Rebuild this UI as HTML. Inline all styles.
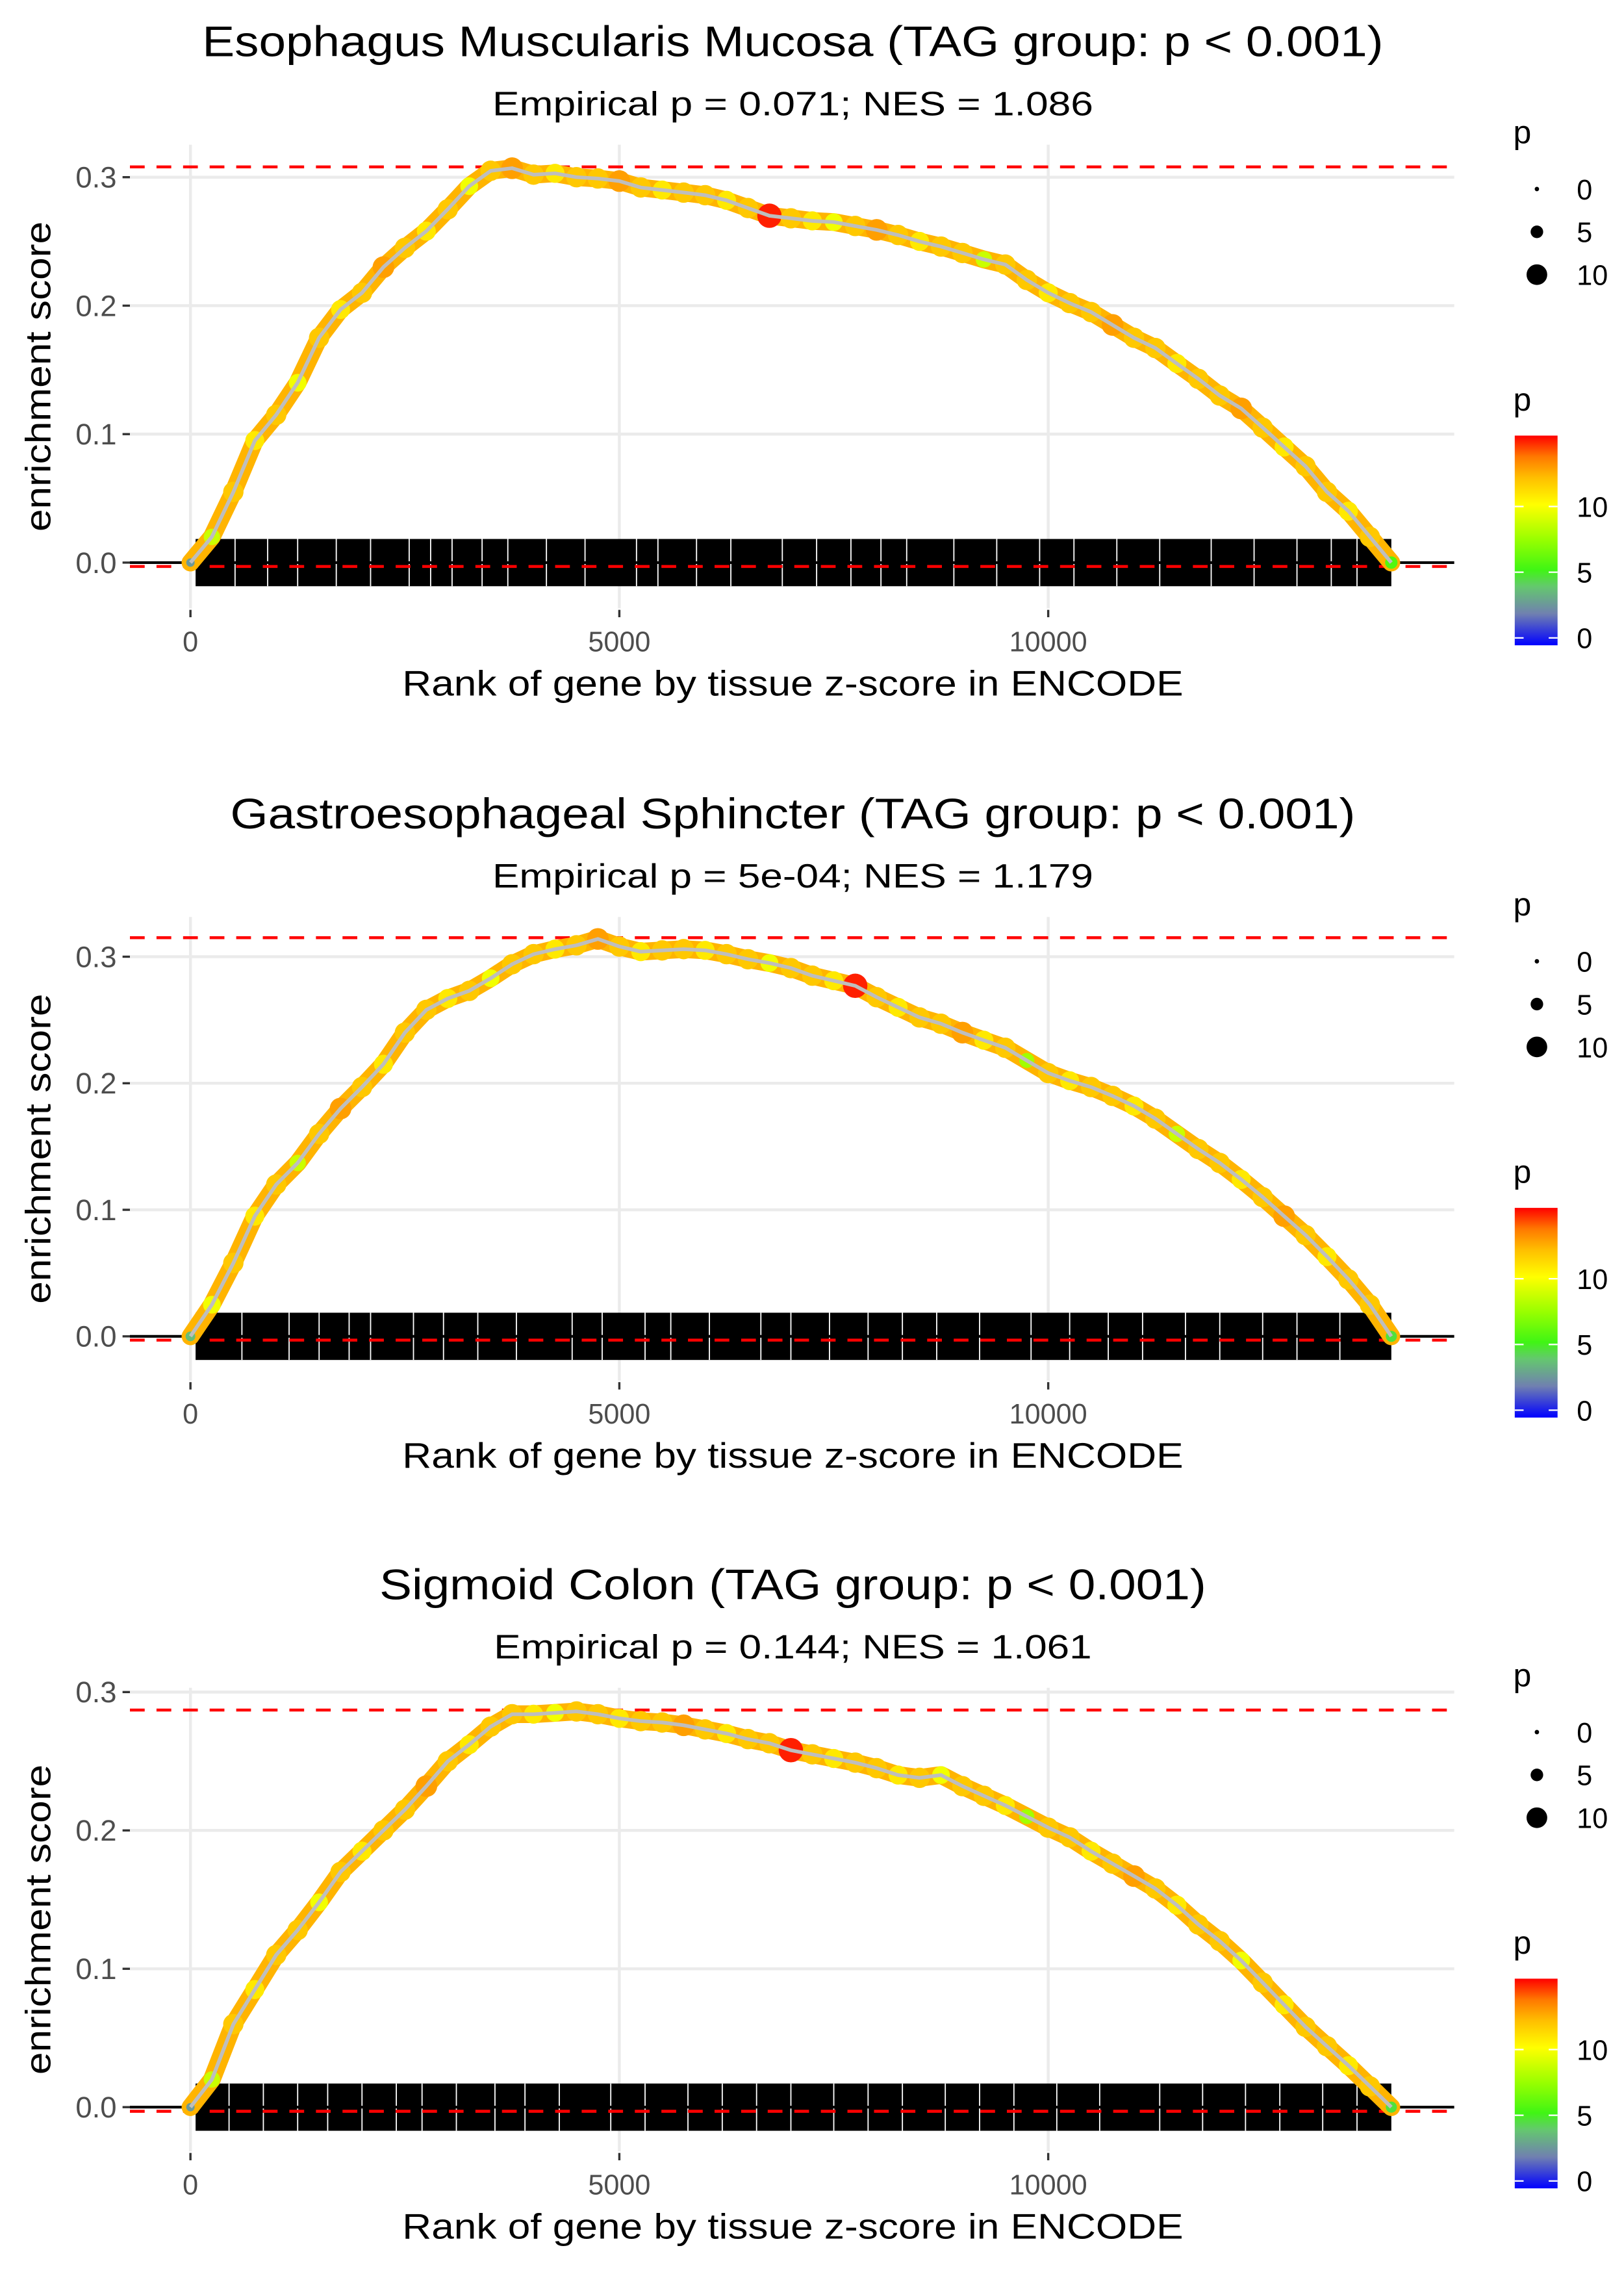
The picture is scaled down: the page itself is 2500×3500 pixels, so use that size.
<!DOCTYPE html>
<html><head><meta charset="utf-8"><style>html,body{margin:0;padding:0;background:#fff}svg{display:block}</style></head>
<body>
<svg id="fig" xmlns="http://www.w3.org/2000/svg" width="2500" height="3500" viewBox="0 0 1100 1540" font-family="Liberation Sans, sans-serif"></svg>
<script>
const ranks=[0,250,500,750,1000,1250,1500,1750,2000,2250,2500,2750,3000,3250,3500,3750,4000,4250,4500,4750,5000,5250,5500,5750,6000,6250,6500,6750,7000,7250,7500,7750,8000,8250,8500,8750,9000,9250,9500,9750,10000,10250,10500,10750,11000,11250,11500,11750,12000,12250,12500,12750,13000,13250,13500,13750,14000];
const es1=[0,0.02,0.055,0.095,0.115,0.14,0.175,0.197,0.21,0.23,0.245,0.258,0.275,0.293,0.305,0.307,0.302,0.303,0.300,0.299,0.297,0.292,0.290,0.288,0.286,0.282,0.276,0.270,0.268,0.266,0.265,0.262,0.259,0.255,0.25,0.246,0.241,0.236,0.232,0.22,0.21,0.202,0.195,0.185,0.175,0.167,0.155,0.143,0.13,0.12,0.105,0.09,0.075,0.055,0.04,0.02,0.0];
const es2=[0,0.025,0.058,0.095,0.12,0.137,0.16,0.18,0.197,0.215,0.24,0.258,0.267,0.273,0.283,0.294,0.302,0.306,0.309,0.314,0.308,0.304,0.305,0.306,0.305,0.302,0.298,0.295,0.291,0.285,0.281,0.277,0.268,0.26,0.252,0.247,0.24,0.234,0.228,0.218,0.208,0.202,0.197,0.19,0.182,0.172,0.16,0.148,0.137,0.124,0.11,0.095,0.08,0.063,0.045,0.025,0.0];
const es3=[0,0.02,0.06,0.085,0.11,0.128,0.148,0.17,0.185,0.2,0.215,0.232,0.25,0.262,0.275,0.284,0.284,0.285,0.286,0.284,0.281,0.279,0.278,0.276,0.273,0.27,0.266,0.263,0.258,0.255,0.252,0.249,0.245,0.24,0.238,0.24,0.232,0.225,0.218,0.21,0.202,0.195,0.185,0.176,0.167,0.158,0.146,0.132,0.12,0.106,0.09,0.074,0.058,0.044,0.03,0.015,0.0];
const p1=[3,9,12,11,12,10,12,11,12,13,12,11,12,10,12,13,12,11,12,12,13,12,11,12,12,11,12,15,12,11,10,12,13,12,11,12,12,9,12,12,11,12,12,13,12,12,11,12,12,13,12,11,12,12,11,12,6];
const p2=[4,10,12,11,12,9,12,13,12,11,12,12,11,12,10,12,12,11,12,13,12,11,12,12,11,12,12,10,12,12,11,15,12,11,12,12,13,11,12,8,12,11,12,12,11,12,9,12,12,11,12,13,12,11,12,12,5];
const p3=[3,9,12,11,12,12,10,12,11,12,12,13,12,11,12,12,11,10,12,12,11,12,12,13,12,11,12,12,15,12,11,12,12,11,12,10,12,12,11,8,12,12,11,12,13,12,11,12,12,10,12,11,12,12,11,12,5];
const gaps1=[520,900,1250,1700,2100,2550,2800,3050,3400,3700,4150,4600,5200,5450,5900,6300,6900,7300,7700,8050,8350,8900,9400,9900,10300,10800,11300,11900,12400,12900,13300,13600];
const gaps2=[600,1150,1500,1850,2100,2600,2950,3350,3800,4450,4800,5300,5600,6050,6650,7000,7450,7900,8300,8700,9200,9800,10250,10700,11100,11600,12000,12500,12900,13400];
const gaps3=[450,850,1250,1600,2000,2400,2700,3100,3550,3900,4300,4900,5300,5800,6200,6600,7000,7500,7900,8300,8800,9200,9600,10100,10600,11300,11800,12300,12700,13200,13600];
const xTicks=[0,5000,10000];
const yTicks=[0,0.1,0.2,0.3];
const sizeLegend=[0,5,10];
const colorLegend=[0,5,10];

const S=document.getElementById('fig');
const NS='http://www.w3.org/2000/svg';
function el(tag,attrs,parent){const e=document.createElementNS(NS,tag);for(const k in attrs)e.setAttribute(k,attrs[k]);(parent||S).appendChild(e);return e;}
const xs=r=>129+r*0.0581;
const stops=[[0,[0,0,255]],[0.15,[112,128,176]],[0.28,[100,200,110]],[0.36,[64,245,20]],[0.5,[150,255,0]],[0.67,[255,255,0]],[0.8,[255,190,0]],[0.9,[255,120,0]],[1,[255,0,0]]];
function pcol(p){let t=Math.max(0,Math.min(1,p/15.4));for(let i=1;i<stops.length;i++){if(t<=stops[i][0]){const a=stops[i-1],b=stops[i];const u=(t-a[0])/(b[0]-a[0]);const c=a[1].map((v,j)=>Math.round(v+(b[1][j]-v)*u));return `rgb(${c})`;}}return 'rgb(255,0,0)';}
const psize=p=>1.5+p*0.45;

const panels=[
 {o:0,y0:381,k:870,es:es1,p:p1,gaps:gaps1,title:'Esophagus Muscularis Mucosa (TAG group: p < 0.001)',tl:800,sub:'Empirical p = 0.071; NES = 1.086',sl:407,maxEs:0.308},
 {o:523,y0:905,k:857,es:es2,p:p2,gaps:gaps2,title:'Gastroesophageal Sphincter (TAG group: p < 0.001)',tl:762,sub:'Empirical p = 5e-04; NES = 1.179',sl:407,maxEs:0.315},
 {o:1045,y0:1427,k:937,es:es3,p:p3,gaps:gaps3,title:'Sigmoid Colon (TAG group: p < 0.001)',tl:560,sub:'Empirical p = 0.144; NES = 1.061',sl:405,maxEs:0.287}
];
panels.forEach((P,pi)=>{
 const o=P.o, ys=v=>P.y0-v*P.k;
 const g=el('g',{});
 
 
 let t=el('text',{x:537,y:38+o,'font-size':29,'text-anchor':'middle',textLength:P.tl,lengthAdjust:'spacingAndGlyphs'},g);t.textContent=P.title;
 
 t=el('text',{x:537,y:78+o,'font-size':23,'text-anchor':'middle',textLength:P.sl,lengthAdjust:'spacingAndGlyphs'},g);t.textContent=P.sub;
 
 yTicks.forEach(v=>{const l=el('line',{x1:88,x2:985,y1:ys(v),y2:ys(v),stroke:'#ebebeb','stroke-width':2},g);
  
  el('line',{x1:83,x2:88,y1:ys(v),y2:ys(v),stroke:'#333','stroke-width':1.5},g);
  const tx=el('text',{x:79,y:ys(v)+7,'font-size':20,'text-anchor':'end',fill:'#4d4d4d'},g);tx.textContent=v.toFixed(1);
  });
 xTicks.forEach(v=>{const l=el('line',{x1:xs(v),x2:xs(v),y1:98+o,y2:412+o,stroke:'#ebebeb','stroke-width':2},g);
  
  el('line',{x1:xs(v),x2:xs(v),y1:413+o,y2:418+o,stroke:'#333','stroke-width':1.5},g);
  const tx=el('text',{x:xs(v),y:441+o,'font-size':19,'text-anchor':'middle',fill:'#4d4d4d'},g);tx.textContent=String(v);
  });
 t=el('text',{x:537,y:471+o,'font-size':24,'text-anchor':'middle',textLength:529,lengthAdjust:'spacingAndGlyphs'},g);t.textContent='Rank of gene by tissue z-score in ENCODE';
 
 const cy=255+o;
 t=el('text',{x:0,y:0,'font-size':24,'text-anchor':'middle',textLength:210,lengthAdjust:'spacingAndGlyphs',transform:`translate(34,${cy}) rotate(-90)`},g);t.textContent='enrichment score';
 
 const rug=el('rect',{x:xs(60),y:ys(0)-16,width:xs(14000)-xs(60),height:32,fill:'#000'},g);
 
 P.gaps.forEach(r=>{el('line',{x1:xs(r),x2:xs(r),y1:ys(0)-16,y2:ys(0)+16,stroke:'#fff','stroke-width':0.8},g);});
 let l=el('line',{x1:88,x2:985,y1:ys(P.maxEs),y2:ys(P.maxEs),stroke:'#ff0000','stroke-width':2,'stroke-dasharray':'10 8'},g);
 
 l=el('line',{x1:88,x2:985,y1:ys(-0.003),y2:ys(-0.003),stroke:'#ff0000','stroke-width':2,'stroke-dasharray':'10 8'},g);
 
 l=el('line',{x1:88,x2:985,y1:ys(0),y2:ys(0),stroke:'#000','stroke-width':1.8},g);
 
 const d=ranks.map((r,i)=>(i?'L':'M')+xs(r).toFixed(1)+','+ys(P.es[i]).toFixed(1)).join('');
 const band=el('path',{d:d,fill:'none',stroke:'#ffb400','stroke-width':12,'stroke-linejoin':'round','stroke-linecap':'round'},g);
 
 ranks.forEach((r,i)=>{const p=P.p[i]!==undefined?P.p[i]:12;
  const c=el('circle',{cx:xs(r),cy:ys(P.es[i]),r:psize(p),fill:pcol(p)},g);
  });
 const path=el('path',{d:d,fill:'none',stroke:'#bebebe','stroke-width':2.5},g);
 
 t=el('text',{x:1025,y:97+o,'font-size':22},g);t.textContent='p';
 
 sizeLegend.forEach((v,i)=>{const yy=128+o+i*29;
  const c=el('circle',{cx:1041,cy:yy,r:1.5+v*0.55,fill:'#000'},g);
  
  const tx=el('text',{x:1068,y:yy+7,'font-size':19},g);tx.textContent=String(v);
  });
 t=el('text',{x:1025,y:278+o,'font-size':22},g);t.textContent='p';
 
 const gid='grad'+pi;const gr=el('linearGradient',{id:gid,x1:0,y1:1,x2:0,y2:0},el('defs',{},g));
 stops.forEach(s=>el('stop',{offset:s[0],'stop-color':`rgb(${s[1]})`},gr));
 const cb=(v)=>432+o-v*8.9;
 const bar=el('rect',{x:1026,y:295+o,width:29,height:142,fill:`url(#${gid})`},g);
 
 colorLegend.forEach(v=>{el('line',{x1:1026,x2:1032,y1:cb(v),y2:cb(v),stroke:'#fff','stroke-width':1},g);
  el('line',{x1:1049,x2:1055,y1:cb(v),y2:cb(v),stroke:'#fff','stroke-width':1},g);
  const tx=el('text',{x:1068,y:cb(v)+7,'font-size':19},g);tx.textContent=String(v);
  });
});
</script>
</body></html>
